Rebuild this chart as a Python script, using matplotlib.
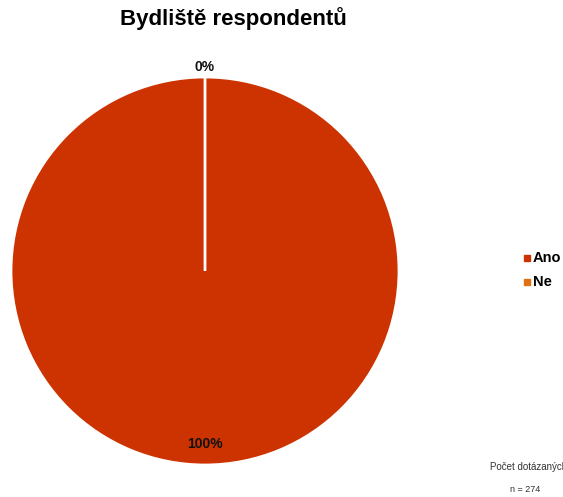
import matplotlib
matplotlib.use("Agg")
import matplotlib.pyplot as plt
import numpy as np

plt.rcParams["font.family"] = ["Liberation Sans", "DejaVu Sans"]

labels = ["Ano", "Ne"]
counts = [274, 0]
colors = ["#CC3300", "#E07010"]
n_total = 274

fig = plt.figure(figsize=(5.63, 4.97), dpi=100)
ax = fig.add_axes([11 / 563, 32 / 497, 388 / 563, 388 / 497])

wedges, _ = ax.pie(counts, colors=colors, startangle=90, counterclock=False,
                   wedgeprops=dict(edgecolor="white", linewidth=2))
ax.set_aspect("equal")
ax.set_xlim(-1, 1)
ax.set_ylim(-1, 1)

total = sum(counts)
for w, c in zip(wedges, counts):
    pct = 100 * c / total
    mid = np.deg2rad((w.theta1 + w.theta2) / 2)
    r = 0.89 if pct > 5 else 1.05
    ax.text(r * np.cos(mid), r * np.sin(mid), f"{pct:.0f}%", ha="center", va="center",
            fontsize=10, fontweight="bold", color="#111111")

fig.text(233 / 563, 1 - 19 / 497, "Bydliště respondentů", ha="center", va="center",
         fontsize=16, fontweight="bold")

for i, (lab, col) in enumerate(zip(labels, colors)):
    y = 1 - (258 + 24 * i) / 497
    fig.patches.append(plt.Rectangle((524 / 563, y - 3 / 497), 6 / 563, 6 / 497,
                                     transform=fig.transFigure, color=col))
    fig.text(533 / 563, y, lab, ha="left", va="center", fontsize=10.5, fontweight="bold")

# reference cuts this label off at the right edge too
fig.text(490 / 563, 1 - 467 / 497, "Počet dotázaných", ha="left", va="center",
         fontsize=7, color="#333333")
fig.text(525 / 563, 1 - 490 / 497, f"n = {n_total}", ha="center", va="center",
         fontsize=6.5, color="#333333")

fig.savefig("out.png", dpi=100)
